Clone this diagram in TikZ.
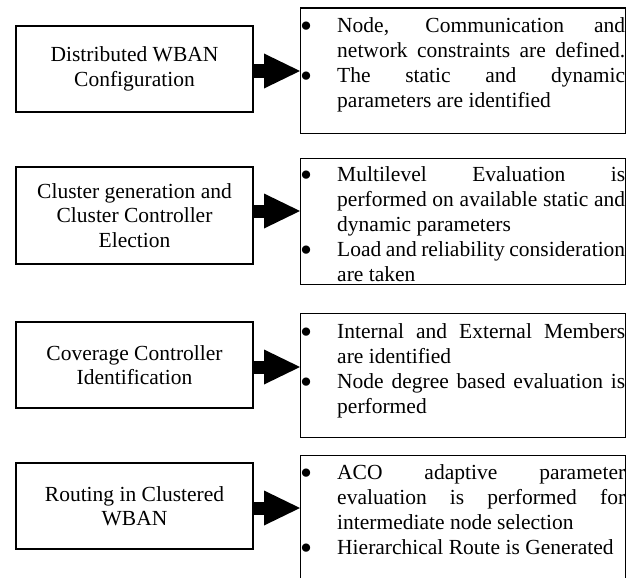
\documentclass[tikz,border=0pt]{standalone}
\usepackage{fontspec}
\setmainfont{Liberation Serif}
\usetikzlibrary{arrows.meta}

% one justified line, one ragged line, and a hanging bullet for the item lists
\newcommand\jline[1]{\hbox to 288pt{#1}}
\newcommand\rline[1]{\hbox{#1}}
\newcommand\itembullet{\llap{\raisebox{-4.5pt}{\scalebox{1.6}{\textbullet}}\hspace{25pt}}}

\tikzset{
  stagebox/.style={draw, line width=1.4pt, minimum width=237pt, inner sep=0pt,
    align=center, font=\fontsize{21.5}{24.5}\selectfont},
  detailbox/.style={draw, line width=1.4pt, minimum width=325pt, inner sep=0pt,
    anchor=north west},
  detailtext/.style={anchor=base west, inner sep=0pt,
    font=\fontsize{21.5}{25}\selectfont},
  flowarrow/.style={line width=13pt,
    -{Triangle[length=36pt, width=35pt, line width=0pt]}},
}

\begin{document}
\begin{tikzpicture}[x=1pt, y=-1pt]
\fill[white] (0,0) rectangle (637,578);
\useasboundingbox (0,0) rectangle (637,578);

% stages on the left
\node[stagebox, minimum height=86pt] (l1) at (134.5,69) {Distributed WBAN\\Configuration};
\node[stagebox, minimum height=97pt] (l2) at (134.5,215.5) {Cluster generation and\\Cluster Controller\\Election};
\node[stagebox, minimum height=86pt] (l3) at (134.5,365) {Coverage Controller\\Identification};
\node[stagebox, minimum height=86pt] (l4) at (134.5,506) {Routing in Clustered\\WBAN};

% detail boxes on the right
\node[detailbox, minimum height=125.5pt] (r1) at (300,7.5) {};
\node[detailbox, minimum height=126pt] (r2) at (300,158) {};
\node[detailbox, minimum height=124pt] (r3) at (300,313) {};
\node[detailbox, minimum height=135pt] (r4) at (300,455) {};

\node[detailtext] (t1) at (337,33) {\vtop{
  \jline{\itembullet Node, Communication and}
  \jline{network constraints are defined.}
  \jline{\itembullet The static and dynamic}
  \rline{parameters are identified}}};

\node[detailtext] (t2) at (337,181.5) {\vtop{
  \jline{\itembullet Multilevel Evaluation is}
  \jline{performed on available static and}
  \rline{dynamic parameters}
  \jline{\itembullet Load and reliability consideration}
  \rline{are taken}}};

\node[detailtext] (t3) at (337,338.5) {\vtop{
  \jline{\itembullet Internal and External Members}
  \rline{are identified}
  \jline{\itembullet Node degree based evaluation is}
  \rline{performed}}};

\node[detailtext] (t4) at (337,479.5) {\vtop{
  \jline{\itembullet ACO adaptive parameter}
  \jline{evaluation is performed for}
  \rline{intermediate node selection}
  \rline{\itembullet Hierarchical Route is Generated}}};

% block arrows from each stage to its details
\coordinate (a1) at ([yshift=-2pt]l1.east);
\coordinate (a2) at ([yshift=4.5pt]l2.east);
\coordinate (a3) at ([yshift=-2pt]l3.east);
\coordinate (a4) at ([yshift=-2pt]l4.east);
\draw[flowarrow] (a1) -- (a1 -| r1.west);
\draw[flowarrow] (a2) -- (a2 -| r2.west);
\draw[flowarrow] (a3) -- (a3 -| r3.west);
\draw[flowarrow] (a4) -- (a4 -| r4.west);
\end{tikzpicture}
\end{document}
